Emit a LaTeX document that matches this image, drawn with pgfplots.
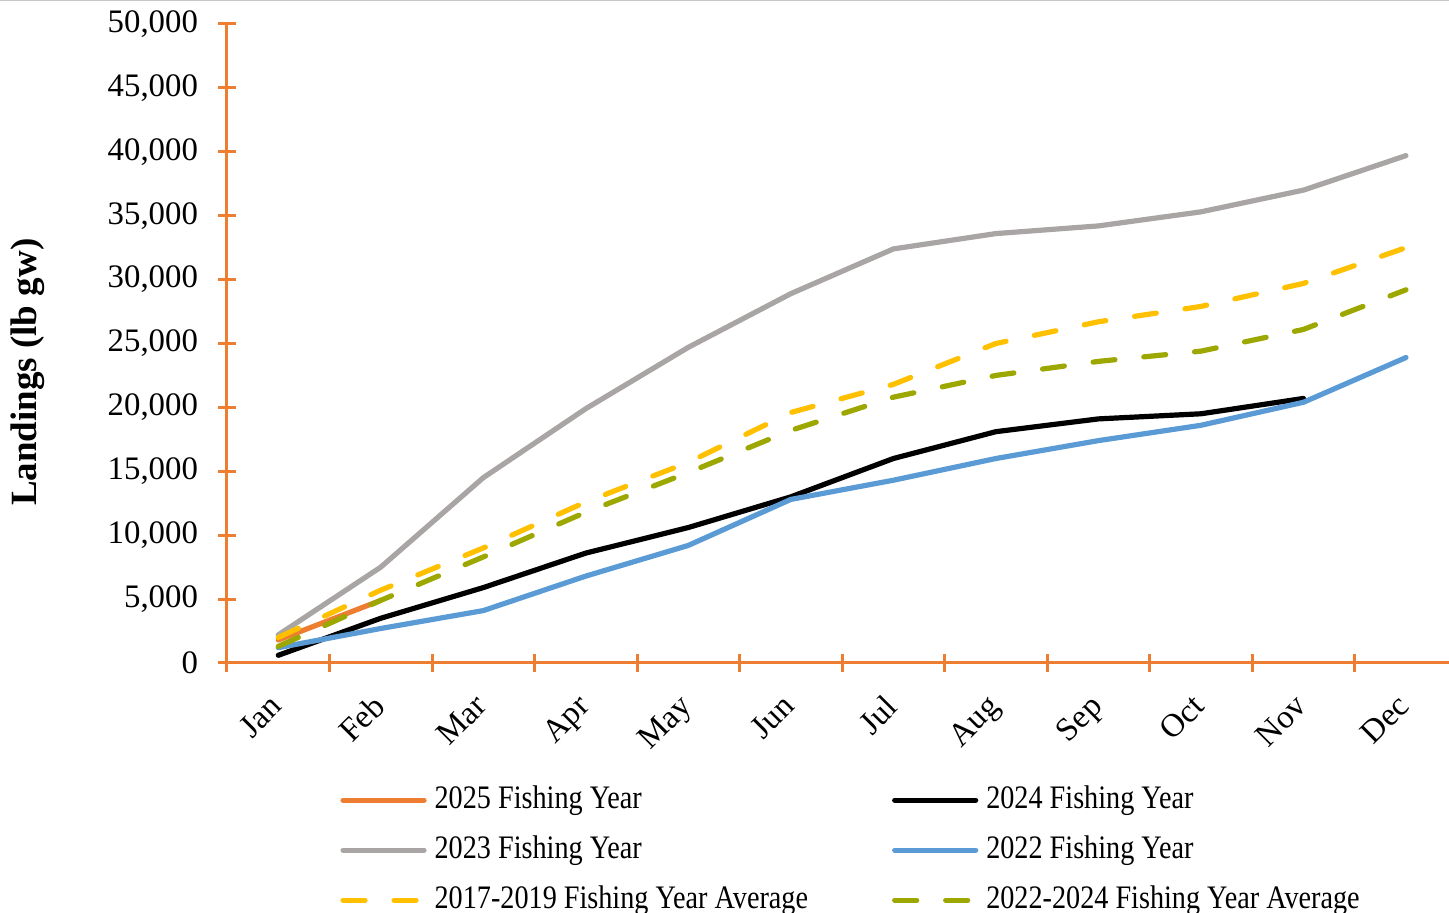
\documentclass[border=0pt]{standalone}
\usepackage{fontspec}
\setmainfont{Liberation Serif}
\usepackage{graphicx}
\usepackage{pgfplots}
\pgfplotsset{compat=1.18}

\definecolor{axisorange}{HTML}{ED7D31}
\definecolor{yr2025}{HTML}{ED7D31}
\definecolor{yr2023}{HTML}{A9A5A4}
\definecolor{yr2022}{HTML}{5B9BD5}
\definecolor{avg1719}{HTML}{FFC000}
\definecolor{avg2224}{HTML}{9CA700}

\newcommand{\legtext}[1]{\scalebox{0.86}[1]{#1}}
\newcommand{\tickfont}{\fontsize{16.4}{19}\selectfont}

\begin{document}
\begin{tikzpicture}[x=1pt,y=1pt]
\useasboundingbox (-113.5,-125) rectangle (611,331.5);
\draw[gray!45, line width=0.6pt] (-113.5,331.2) -- (611,331.2);
\begin{axis}[
  at={(0,0)}, anchor=south west,
  scale only axis, width=611pt, height=319.5pt,
  xmin=-0.5, xmax=11.42, ymin=0, ymax=50000,
  axis x line*=bottom, axis y line*=left,
  axis line style={axisorange, line width=1.5pt, -},
  tick style={axisorange, line width=1.5pt},
  tick align=center, major tick length=9pt,
  ytick={0,5000,...,50000},
  scaled y ticks=false,
  /pgf/number format/1000 sep={,},
  /pgf/number format/assume math mode=true,
  yticklabel style={font=\tickfont, xshift=-6.5pt},
  xtick={-0.5,0.5,...,10.5},
  xticklabels={},
  extra x ticks={0,1,2,3,4,5,6,7,8,9,10,11},
  extra x tick labels={Jan,Feb,Mar,Apr,May,Jun,Jul,Aug,Sep,Oct,Nov,Dec},
  extra x tick style={major tick length=0pt,
    xticklabel style={rotate=45, anchor=north east, font=\tickfont,
      xshift=-10.6pt, yshift=-3.5pt}},
  ylabel={Landings (lb gw)},
  every axis y label/.style={at={(rel axis cs:0,0.455)}, xshift=-99.5pt,
    rotate=90, anchor=center, font=\bfseries\fontsize{18.5}{22}\selectfont},
  legend columns=2,
  legend cell align=left,
  legend image code/.code={\draw[#1] (0pt,0pt) -- (40.5pt,0pt);},
  legend style={at={(0.0925,-0.189)}, anchor=north west, draw=none, fill=none,
    inner sep=0pt, row sep=9pt, column sep=4pt, font=\tickfont,
    nodes={inner sep=0pt, text height=12pt, text depth=4pt},
    /tikz/every even column/.append style={column sep=42pt}},
]
\addplot[yr2025, line width=2.6pt, line cap=round, line join=round]
  coordinates {(0,1800)(1,4900)};
\addlegendentry{\legtext{2025 Fishing Year}}
\addplot[black, line width=2.6pt, line cap=round, line join=round]
  coordinates {(0,600)(1,3500)(2,5900)(3,8600)(4,10600)(5,13000)(6,16000)(7,18100)(8,19100)(9,19500)(10,20700)};
\addlegendentry{\legtext{2024 Fishing Year}}
\addplot[yr2023, line width=2.6pt, line cap=round, line join=round]
  coordinates {(0,2200)(1,7500)(2,14500)(3,19900)(4,24700)(5,28900)(6,32400)(7,33600)(8,34200)(9,35300)(10,37000)(11,39700)};
\addlegendentry{\legtext{2023 Fishing Year}}
\addplot[yr2022, line width=2.6pt, line cap=round, line join=round]
  coordinates {(0,1200)(1,2700)(2,4100)(3,6800)(4,9200)(5,12800)(6,14300)(7,16000)(8,17400)(9,18600)(10,20400)(11,23900)};
\addlegendentry{\legtext{2022 Fishing Year}}
\addplot[avg1719, line width=2.6pt, line cap=round, line join=round, dash pattern=on 11pt off 14.5pt]
  coordinates {(0,2000)(1,5700)(2,9000)(3,12600)(4,15700)(5,19600)(6,21800)(7,25000)(8,26700)(9,27900)(10,29700)(11,32500)};
\addlegendentry{\legtext{2017-2019 Fishing Year Average}}
\addplot[avg2224, line width=2.6pt, line cap=round, line join=round, dash pattern=on 11pt off 14.5pt]
  coordinates {(0,1300)(1,4900)(2,8300)(3,11800)(4,14900)(5,18200)(6,20800)(7,22500)(8,23600)(9,24400)(10,26100)(11,29200)};
\addlegendentry{\legtext{2022-2024 Fishing Year Average}}
\end{axis}
\end{tikzpicture}
\end{document}
